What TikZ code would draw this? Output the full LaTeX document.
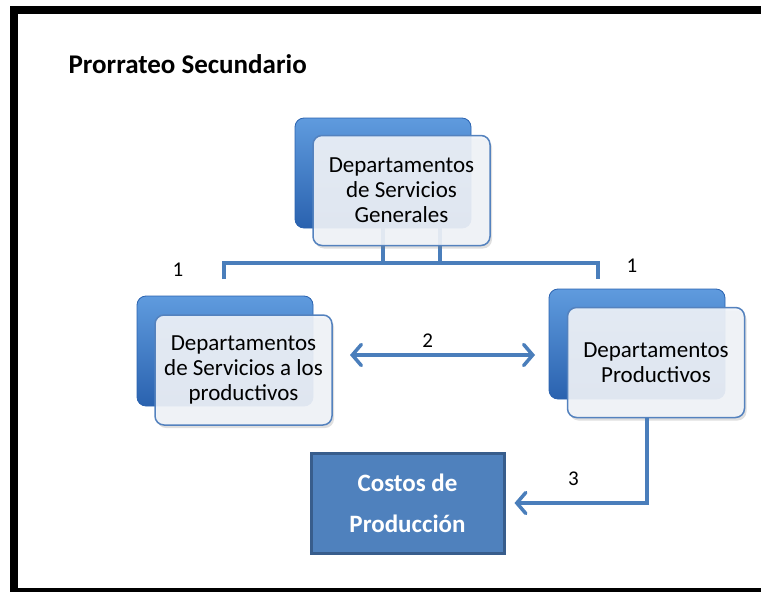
\documentclass[tikz,border=0pt]{standalone}
\usepackage{fontspec}
\setmainfont{Carlito}
\usetikzlibrary{arrows.meta,shadows}

\definecolor{linkblue}{RGB}{74,126,187}
\definecolor{boxedge}{RGB}{84,130,190}
\definecolor{backtop}{RGB}{95,155,222}
\definecolor{backbot}{RGB}{42,98,175}
\definecolor{frontfill}{RGB}{241,244,249}
\definecolor{costfill}{RGB}{79,129,189}
\definecolor{costedge}{RGB}{56,93,140}

\tikzset{
  backbox/.style={rounded corners=9pt, minimum width=176pt, minimum height=110pt,
    top color=backtop, bottom color=backbot, draw=backbot, line width=0.8pt},
  frontbox/.style={rounded corners=9pt, minimum width=177pt, minimum height=110pt,
    draw=boxedge, line width=1.5pt, fill=frontfill, fill opacity=0.9, text opacity=1,
    align=center, font=\fontsize{23}{25}\selectfont,
    drop shadow={opacity=0.25, shadow xshift=2pt, shadow yshift=-3pt}},
  costbox/.style={minimum width=193pt, minimum height=100pt, fill=costfill,
    draw=costedge, line width=3pt, text=white, align=center,
    font=\bfseries\fontsize{25}{41}\selectfont},
  link/.style={draw=linkblue, line width=3.5pt},
  barb/.tip={Straight Barb[length=9pt, width=21pt, line cap=round]},
  arrowlink/.style={link, line cap=round, arrows={-barb}},
  numlabel/.style={font=\fontsize{21}{24}\selectfont}
}

\begin{document}
\begin{tikzpicture}[x=1pt, y=-1pt]
\useasboundingbox (0,0) rectangle (761,592);
\clip (0,0) rectangle (761,592);
% frame
\draw[line width=8pt] (13.5,9.5) rectangle (790,592);

\node[anchor=west, font=\bfseries\fontsize{27}{30}\selectfont] (title) at (65,64) {Prorrateo Secundario};

% back boxes
\node[backbox] (genback) at (383,173) {};
\node[backbox] (servback) at (225,351) {};
\node[backbox] (prodback) at (637,344) {};

% bus from the top box
\coordinate (busL) at (224,263);
\coordinate (busR) at (598,263);
\draw[link] (genback.south) -- (genback.south |- busL);
\draw[link] ([xshift=57pt]genback.south) -- ([xshift=57pt]genback.south |- busL);
\draw[link] ([yshift=-16pt]busL) -- (busL) -- (busR) -- ([yshift=-16pt]busR);

% front boxes
\node[frontbox] (genfront) at (401.5,190.5) {Departamentos\\de Servicios\\Generales};
\node[frontbox] (servfront) at (243.5,370) {Departamentos\\de Servicios a los\\productivos};
\node[frontbox] (prodfront) at (656,362.5) {Departamentos\\Productivos};

\node[costbox] (costos) at (407.5,503) {Costos de\\Producción};

\node[numlabel] (one-l) at (178,270) {1};
\node[numlabel] (one-r) at (632,266) {1};

% arrows
\coordinate (twoL) at (350,355);
\coordinate (twoR) at (535,355);
\draw[arrowlink, arrows={barb-barb}]
  (twoL) -- node[numlabel, pos=0.42, above=2pt] (two) {2} (twoR);
\draw[arrowlink, line cap=butt, shorten >=9pt] ([xshift=-9pt]prodfront.south) |- node[numlabel, pos=0.76, above=12pt] (three) {3} (costos.east);
\end{tikzpicture}
\end{document}
